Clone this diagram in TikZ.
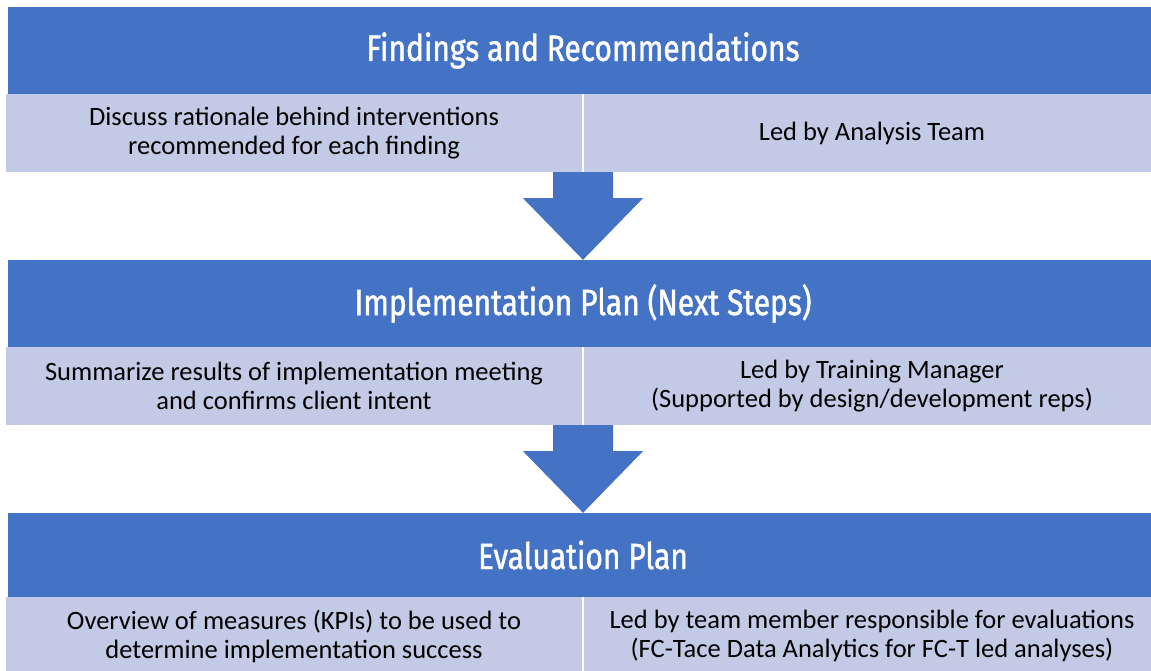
\documentclass[tikz,border=0pt]{standalone}
\usepackage{fontspec}
\setmainfont{Carlito}
\newfontfamily\headfont[FakeStretch=0.82,FakeBold=1.2]{Fira Sans}
\definecolor{hdblue}{RGB}{68,114,196}
\definecolor{rowblue}{RGB}{195,202,230}

% block arrow from a row down to the next header
\newcommand\flowarrow[3]{%
  \fill[hdblue] ([xshift=-30pt]#1 |- #2.south) -- ([xshift=30pt]#1 |- #2.south)
    -- ([xshift=30pt,yshift=-26pt]#1 |- #2.south) -- ([xshift=60pt,yshift=-26pt]#1 |- #2.south)
    -- (#1 |- #3.north)
    -- ([xshift=-60pt,yshift=-26pt]#1 |- #2.south) -- ([xshift=-30pt,yshift=-26pt]#1 |- #2.south) -- cycle;}

\begin{document}
\begin{tikzpicture}[x=1pt,y=-1pt,
  head/.style={fill=hdblue,text=white,minimum width=1150pt,minimum height=87pt,inner sep=0pt,
    font=\headfont\fontsize{36.5}{40}\selectfont},
  cell/.style={fill=rowblue,minimum width=576pt,minimum height=78pt,inner sep=0pt,align=center,
    font=\fontsize{26.5}{29}\selectfont}]
\useasboundingbox (0,0) rectangle (1151,670);

% findings
\node[head] (find) at (583,50.5) {Findings and Recommendations};
\node[cell] (findL) at (294,133) {Discuss rationale behind interventions\\recommended for each finding};
\node[cell] (findR) at (872,133) {Led by Analysis Team};

% implementation
\node[head] (impl) at (583,303.5) {Implementation Plan (Next Steps)};
\node[cell] (implL) at (294,386) {Summarize results of implementation meeting\\and confirms client intent};
\node[cell] (implR) at (872,386) {Led by Training Manager\\(Supported by design/development reps)};

% evaluation
\node[head,minimum height=84pt] (eval) at (583,555) {Evaluation Plan};
\node[cell] (evalL) at (294,636) {Overview of measures (KPIs) to be used to\\determine implementation success};
\node[cell] (evalR) at (872,636) {Led by team member responsible for evaluations\\(FC-Tace Data Analytics for FC-T led analyses)};

\foreach \a/\b/\c in {find/findL/impl,impl/implL/eval}
  \flowarrow{\a}{\b}{\c};

\end{tikzpicture}
\end{document}
